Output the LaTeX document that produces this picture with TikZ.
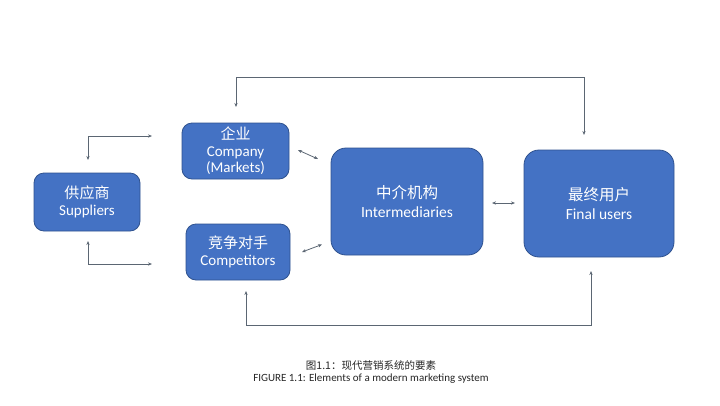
\documentclass[tikz,border=0pt]{standalone}
\usepackage{fontspec}
\setmainfont{Carlito}
\newfontfamily\cjk{Noto Sans CJK SC}
\newfontfamily\cjklight{Noto Sans CJK SC Light}
\usetikzlibrary{arrows.meta}
\definecolor{boxfill}{HTML}{4472C4}
\definecolor{boxline}{HTML}{2F528F}
\definecolor{conn}{HTML}{5B6673}
\begin{document}
\begin{tikzpicture}[x=1pt,y=-1pt,
  blk/.style={draw=boxline,line width=0.8pt,fill=boxfill,text=white,rounded corners=10pt,
    align=center,font=\fontsize{15}{16.5}\selectfont,inner sep=0pt},
  bigblk/.style={blk,rounded corners=15pt,font=\fontsize{15.5}{19}\selectfont},
  link/.style={draw=conn,line width=0.8pt,{Stealth[length=4pt,width=3.2pt]}-{Stealth[length=4pt,width=3.2pt]}}]
\useasboundingbox (0,0) rectangle (720,405);
\fill[white] (0,0) rectangle (720,405);
\node[blk,minimum width=106pt,minimum height=58pt] (sup) at (87,202) {{\cjk 供应商}\\Suppliers};
\node[blk,minimum width=107pt,minimum height=56pt] (comp) at (235.5,151) {{\cjk 企业}\\Company\\(Markets)};
\node[blk,minimum width=104pt,minimum height=56pt] (compet) at (238,252) {{\cjk 竞争对手}\\Competitors};
\node[bigblk,minimum width=152pt,minimum height=107pt] (inter) at (407,201.5) {{\cjk 中介机构}\\Intermediaries};
\node[bigblk,minimum width=150pt,minimum height=107pt] (final) at (599,203.5) {{\cjk 最终用户}\\Final users};
% free ends
\coordinate (t1) at (236,107);
\coordinate (t2) at (584,135);
\coordinate (b1) at (246,291);
\coordinate (b2) at (591,271);
\coordinate (s1) at (88,160);
\coordinate (s2) at (152,136);
\coordinate (s3) at (88,241);
\coordinate (s4) at (152,264);
\coordinate (c1) at (298,150);
\coordinate (c2) at (318,159);
\coordinate (d1) at (302,252);
\coordinate (d2) at (322,244.5);
\coordinate (e1) at (492,203);
\coordinate (e2) at (515,203);
\draw[link] (t1) -- (t1 |- 0,77) -| (t2);
\draw[link] (b1) -- (b1 |- 0,325) -| (b2);
\draw[link] (s1) |- (s2);
\draw[link] (s3) |- (s4);
\draw[link] (c1) -- (c2);
\draw[link] (d1) -- (d2);
\draw[link] (e1) -- (e2);
\node[align=center,text=black!85,inner sep=0pt] (cap) at (371,372.5)
  {{\cjk\fontsize{10.5}{13}\selectfont 图1.1：现代营销系统的要素}\\{\fontsize{11}{13}\selectfont FIGURE 1.1: Elements of a modern marketing system}};
\end{tikzpicture}
\end{document}
